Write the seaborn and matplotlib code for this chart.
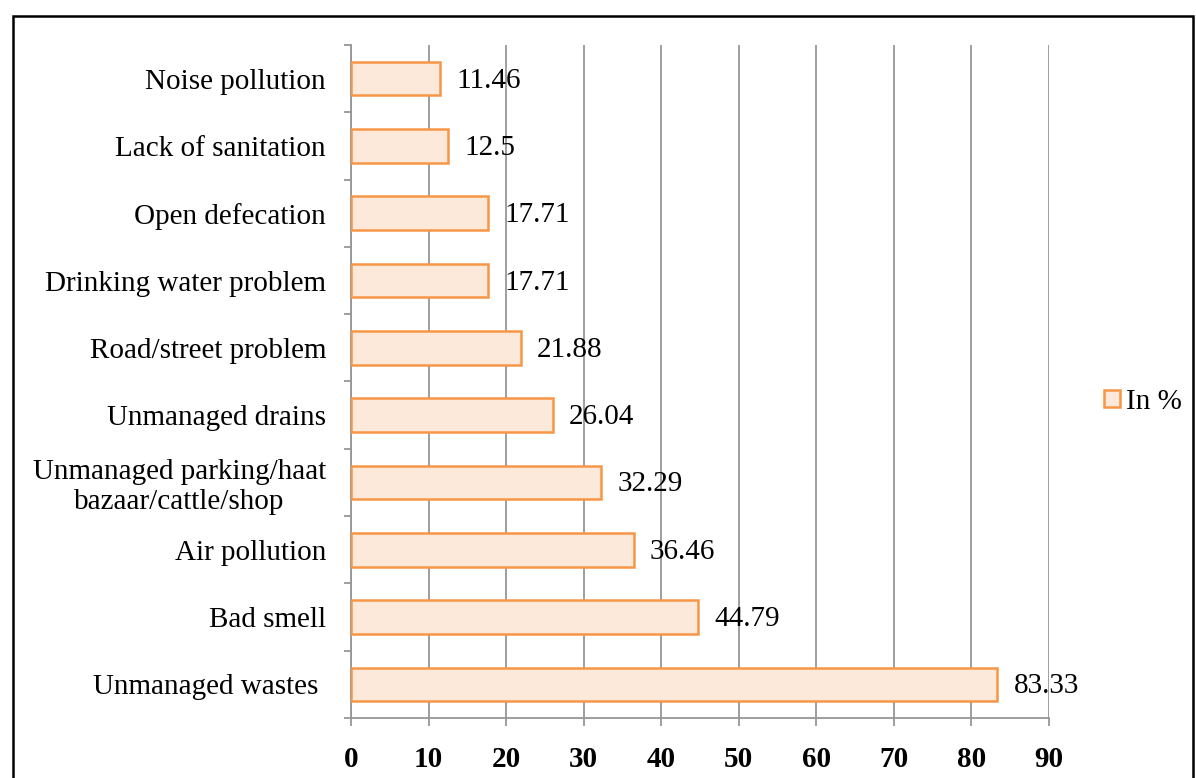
import numpy as np
import pandas as pd
import seaborn as sns
import matplotlib.pyplot as plt
from matplotlib.patches import Rectangle, Patch

categories = [
    "Noise pollution",
    "Lack of sanitation",
    "Open defecation",
    "Drinking water problem",
    "Road/street problem",
    "Unmanaged drains",
    "Unmanaged parking/haat\nbazaar/cattle/shop",
    "Air pollution",
    "Bad smell",
    "Unmanaged wastes ",
]
values = [11.46, 12.5, 17.71, 17.71, 21.88, 26.04, 32.29, 36.46, 44.79, 83.33]
value_labels = ["11.46", "12.5", "17.71", "17.71", "21.88", "26.04", "32.29", "36.46", "44.79", "83.33"]
x_ticks = [0, 10, 20, 30, 40, 50, 60, 70, 80, 90]

FILL = "#FDE9D9"
EDGE = "#F79646"
GRID = "#969696"

sns.set_style("white")
plt.rcParams["font.family"] = ["Liberation Serif", "DejaVu Serif"]
plt.rcParams["text.color"] = "black"
plt.rcParams["xtick.color"] = "black"
plt.rcParams["ytick.color"] = "black"

df = pd.DataFrame({"problem": categories, "pct": values})

fig = plt.figure(figsize=(11.96, 7.78), dpi=100)
ax = fig.add_axes([351 / 1196, 1 - 718 / 778, (1049 - 351) / 1196, (718 - 45) / 778])

sns.barplot(
    data=df,
    y="problem",
    x="pct",
    order=categories,
    color=FILL,
    edgecolor=EDGE,
    linewidth=1.8,
    width=0.5,
    saturation=1,
    ax=ax,
    zorder=3,
)

ax.set_xlim(0, 90)
ax.set_ylim(len(categories) - 0.5, -0.5)
ax.set_xticks(x_ticks)
ax.set_xticklabels([str(t) for t in x_ticks], fontsize=21, fontweight="bold")
ax.set_xlabel("")
ax.set_ylabel("")
ax.tick_params(axis="x", bottom=True, length=6, width=1.3, color=GRID, labelcolor="black", pad=14)

# category labels at centers, tick marks at the boundaries
ax.set_yticks(range(len(categories)))
ax.set_yticklabels(categories, fontsize=21, multialignment="center")
ax.tick_params(axis="y", which="major", left=False, length=0, pad=18, labelcolor="black")
ax.set_yticks(np.arange(-0.5, len(categories) + 0.5, 1), minor=True)
ax.tick_params(axis="y", which="minor", left=True, length=5, width=1.3, color=GRID)

ax.xaxis.grid(True, color=GRID, linewidth=1.3, zorder=0)
ax.set_axisbelow(True)
for side in ["top", "right"]:
    ax.spines[side].set_visible(False)
for side in ["left", "bottom"]:
    ax.spines[side].set_color(GRID)
    ax.spines[side].set_linewidth(1.3)

for i, (v, lab) in enumerate(zip(values, value_labels)):
    ax.text(v + 2.1, i + 0.03, lab, va="center", ha="left", fontsize=21, color="black", zorder=4)

handle = Patch(facecolor=FILL, edgecolor=EDGE, linewidth=1.8)
fig.legend(
    [handle], ["In %"],
    loc="center left",
    bbox_to_anchor=(1104 / 1196, 1 - 402 / 778),
    frameon=False,
    fontsize=21,
    handlelength=0.55,
    handleheight=0.55,
    handletextpad=0.2,
    borderpad=0,
    borderaxespad=0,
)

# outer frame
fig.patches.append(
    Rectangle((13 / 1196, -0.05), (1193 - 13) / 1196, 1.05 - 16 / 778,
              transform=fig.transFigure, fill=False, edgecolor="black", linewidth=1.8)
)

fig.savefig("out.png", dpi=100)
